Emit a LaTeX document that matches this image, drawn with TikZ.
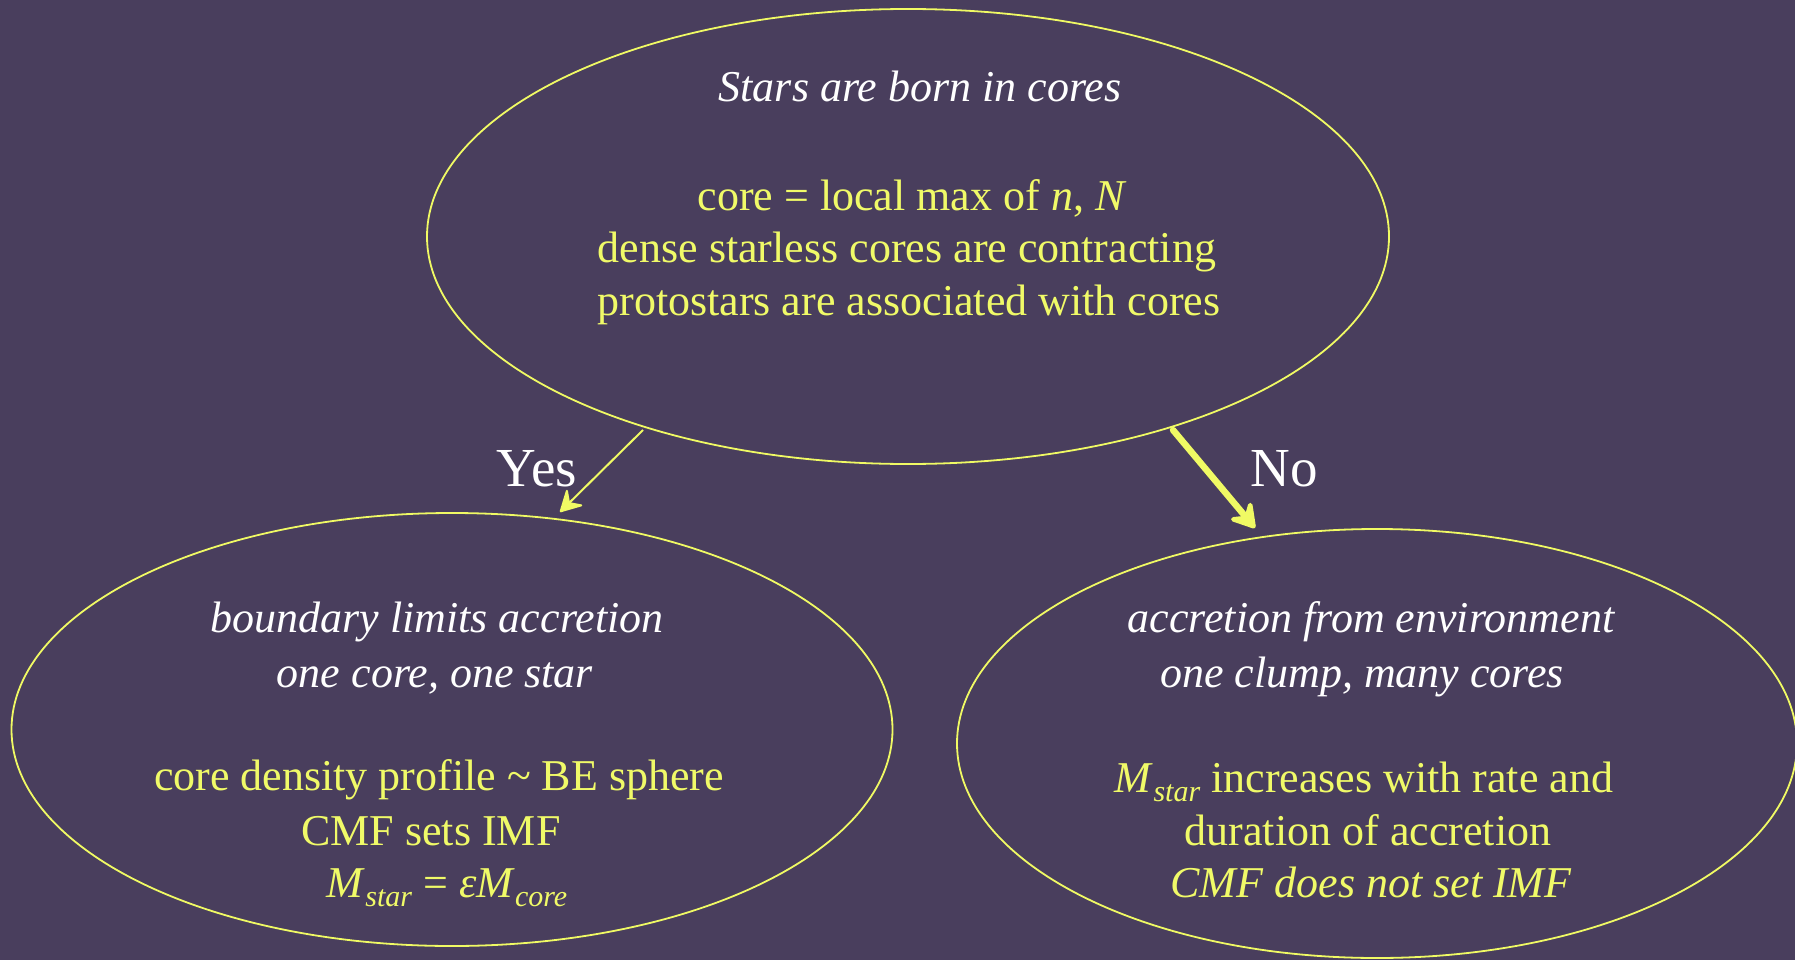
\documentclass[tikz,border=0pt]{standalone}
\usepackage{fontspec}
\setmainfont{Liberation Serif}
\usetikzlibrary{shapes.geometric,arrows.meta}
\definecolor{bgc}{RGB}{73,62,93}
\definecolor{ylw}{RGB}{240,250,100}
\definecolor{ytxt}{RGB}{240,250,104}
\newcommand{\subsc}[1]{\raisebox{-9pt}{\fontsize{30}{30}\selectfont\textit{#1}}}
\tikzset{
  oval/.style={ellipse, draw=ylw, line width=1.8pt, inner sep=0pt},
  yl/.style={text=ytxt, font=\fontsize{44}{53}\selectfont, anchor=base, inner sep=0pt},
  wl/.style={text=white, font=\fontsize{44}{53}\selectfont\itshape, anchor=base, inner sep=0pt},
  lbl/.style={text=white, font=\fontsize{55}{60}\selectfont, anchor=base, inner sep=0pt},
  thinarrow/.style={draw=ylw, line width=2pt, -{Stealth[round, length=24pt, width=26pt, inset=9pt]}},
  thickarrow/.style={draw=ylw, line width=6.5pt, line cap=round, -{Stealth[round, length=30pt, width=36pt, inset=12pt]}}
}
\begin{document}
\begin{tikzpicture}[x=1pt,y=-1pt]
\useasboundingbox (0,0) rectangle (1795,960);
\fill[bgc] (0,0) rectangle (1795,960);
\clip (0,0) rectangle (1795,960);
% ellipses
\node[oval, minimum width=962pt, minimum height=455pt] (top) at (908,236.5) {};
\node[oval, minimum width=881pt, minimum height=433pt] (left) at (452,729.5) {};
\node[oval, minimum width=840pt, minimum height=429pt] (right) at (1377,743.5) {};
% top text
\node[wl] (t1) at (920,102) {Stars are born in cores};
\node[yl] (t2) at (912,210) {core = local max of \textit{n}, \textit{N}};
\node[yl] (t3) at (907,262) {dense starless cores are contracting};
\node[yl] (t4) at (909,315) {protostars are associated with cores};
% left text
\node[wl] (l1) at (437,632) {boundary limits accretion};
\node[wl] (l2) at (435,687) {one core, one star};
\node[yl] (l3) at (439,790) {core density profile \textasciitilde\ BE sphere};
\node[yl] (l4) at (431,845) {CMF sets IMF};
\node[yl] (l5) at (447,897) {\textit{M}\subsc{star} = \textit{εM}\subsc{core}};
% right text
\node[wl] (r1) at (1371,632) {accretion from environment};
\node[wl] (r2) at (1362,687) {one clump, many cores};
\node[yl] (r3) at (1364,792) {\textit{M}\subsc{star} increases with rate and};
\node[yl] (r4) at (1368,845) {duration of accretion};
\node[yl, font=\fontsize{44}{53}\selectfont\itshape] (r5) at (1371,897) {CMF does not set IMF};
% arrows
\coordinate (ya) at (643,430);
\coordinate (yb) at (560,512);
\coordinate (na) at (1173,430);
\coordinate (nb) at (1255,528);
\draw[thinarrow] (ya) -- (yb);
\draw[thickarrow] (na) -- (nb);
\node[lbl] (yes) at (537,486) {Yes};
\node[lbl] (no) at (1284,486) {No};
\end{tikzpicture}
\end{document}
